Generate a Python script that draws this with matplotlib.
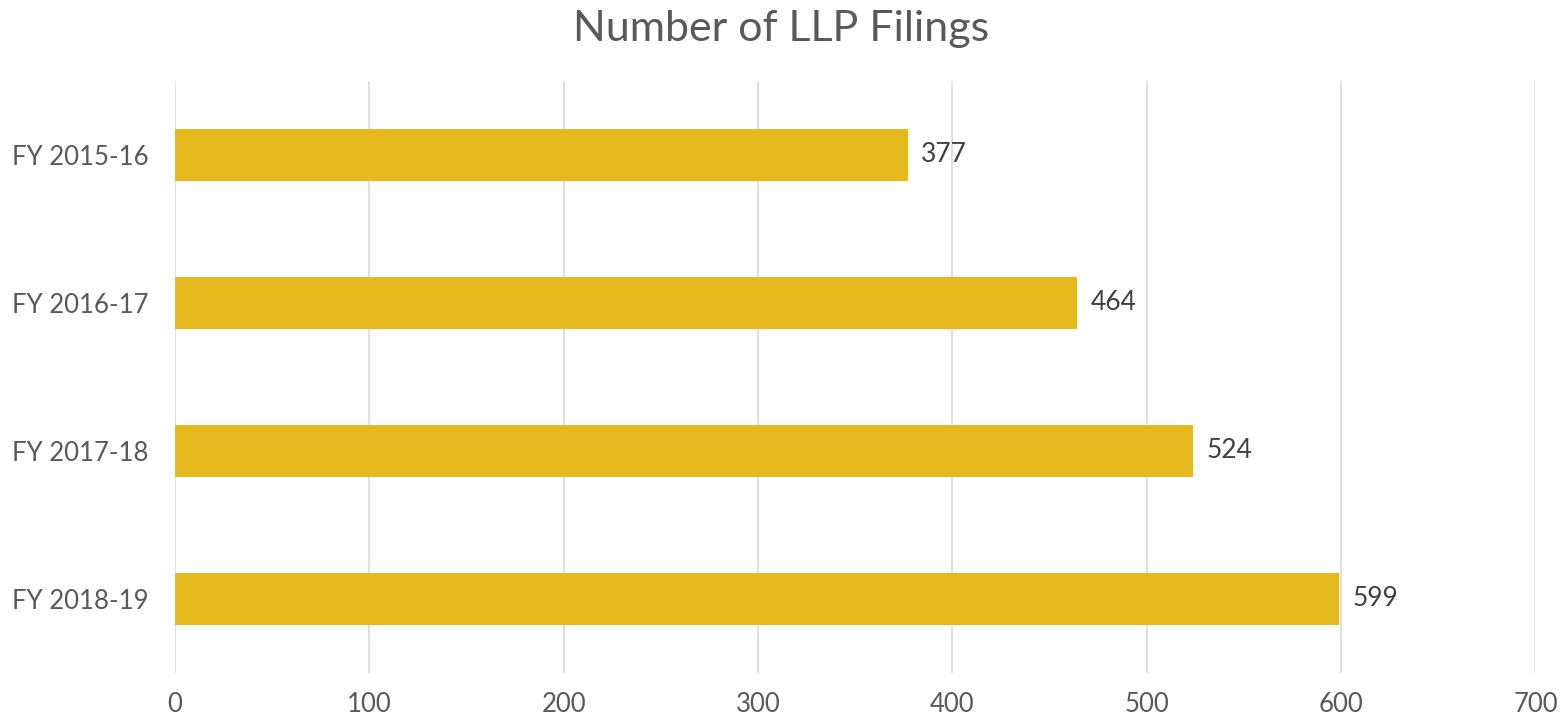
import matplotlib
matplotlib.use("Agg")
import matplotlib.pyplot as plt

# data
years = ["FY 2015-16", "FY 2016-17", "FY 2017-18", "FY 2018-19"]
filings = [377, 464, 524, 599]
x_ticks = [0, 100, 200, 300, 400, 500, 600, 700]

plt.rcParams['font.family'] = ['Lato', 'DejaVu Sans']
text_color = "#595959"
bar_color = "#E5B91E"

fig = plt.figure(figsize=(15.62, 7.21), dpi=100)
ax = fig.add_axes([0.112, 0.067, 0.871, 0.821])

pos = range(len(years))
bars = ax.barh(pos, filings, height=0.35, color=bar_color, zorder=3)

# value labels just right of each bar
for rect, val in zip(bars, filings):
    ax.text(rect.get_width() + 7, rect.get_y() + rect.get_height() / 2, str(val),
            va="center", ha="left", fontsize=19, color="#404040")

ax.set_xlim(0, 700)
ax.set_ylim(3.5, -0.5)
ax.set_xticks(x_ticks)
ax.set_yticks(list(pos))
ax.set_yticklabels(years)
ax.tick_params(axis="both", length=0, labelsize=18.5, labelcolor=text_color)
ax.tick_params(axis="x", pad=14)
ax.tick_params(axis="y", pad=19)
ax.xaxis.grid(True, color="#D9D9D9", linewidth=1.2, zorder=0)
for s in ax.spines.values():
    s.set_visible(False)

fig.text(0.5, 0.96, "Number of LLP Filings", ha="center", va="center",
         fontsize=31, color=text_color)

fig.savefig("out.png", dpi=100)
